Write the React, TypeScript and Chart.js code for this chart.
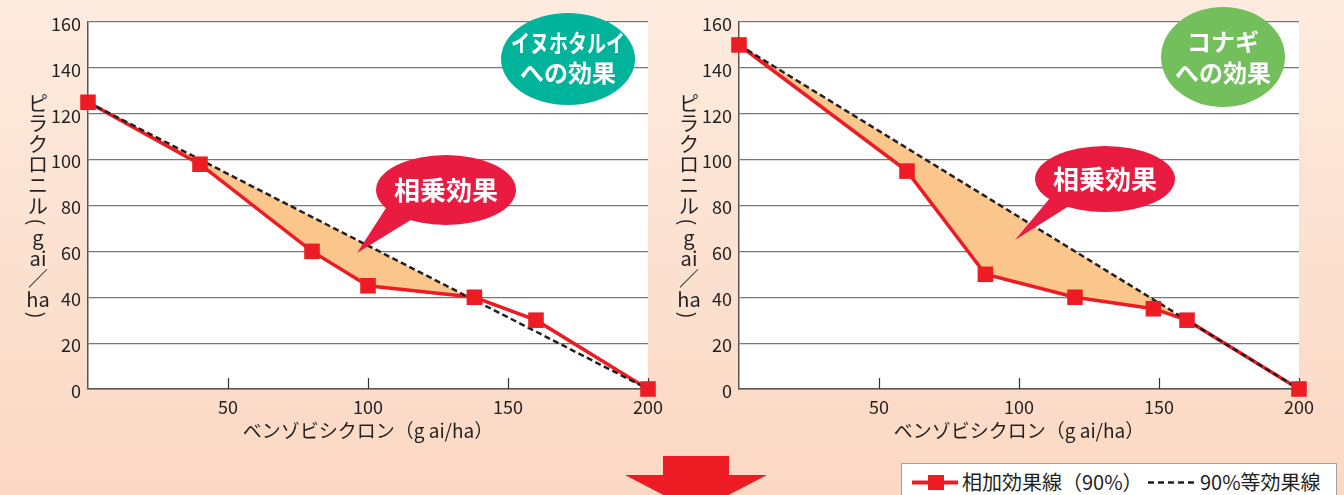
import React, { useEffect, useRef } from 'react';
import { Chart, registerables } from 'chart.js';

Chart.register(...registerables);

const FONT = '"Noto Sans CJK JP", "Noto Sans", sans-serif';
const TEXT = '#231f20';
const RED = '#ed1c24';
const ORANGE = '#fbc68b';
const CALLOUT = '#ea1b40';

// ---- data ----
const xTickValues = [0, 50, 100, 150, 200];
const yTickValues = [0, 20, 40, 60, 80, 100, 120, 140, 160];

// イヌホタルイ
const leftAdditiveX = [0, 40, 80, 100, 138, 160, 200];
const leftAdditiveY = [125, 98, 60, 45, 40, 30, 0];
const leftIsoboleX = [0, 200];
const leftIsoboleY = [125, 0];

// コナギ
const rightAdditiveX = [0, 60, 88, 120, 148, 160, 200];
const rightAdditiveY = [150, 95, 50, 40, 35, 30, 0];
const rightIsoboleX = [0, 200];
const rightIsoboleY = [150, 0];

const yTitleGlyphs = ['ピ', 'ラ', 'ク', 'ロ', 'ニ', 'ル', '(', 'g', 'ai', '／', 'ha', ')'];
const xTitle = 'ベンゾビシクロン（g ai/ha）';
const leftBadgeLines = ['イヌホタルイ', 'への効果'];
const rightBadgeLines = ['コナギ', 'への効果'];
const calloutText = '相乗効果';
const legendLabels = ['相加効果線（90%）', '90%等効果線'];

type Decor = {
  yTitleX: number;
  yTitleTop: number;
  badge: { cx: number; cy: number; rx: number; ry: number; color: string; lineY: number[]; maxW: number[] };
  badgeLines: string[];
  callout: { cx: number; cy: number; rx: number; ry: number; tail: number[][]; textY: number };
};

function makeDecor(d: Decor) {
  return {
    id: 'decor',
    beforeDraw(chart: any) {
      const { ctx, chartArea } = chart;
      ctx.save();
      ctx.fillStyle = '#ffffff';
      ctx.fillRect(chartArea.left, chartArea.top, chartArea.right - chartArea.left, chartArea.bottom - chartArea.top);
      ctx.restore();
    },
    beforeDatasetsDraw(chart: any) {
      const { ctx, chartArea } = chart;
      const xs = chart.scales.x;
      ctx.save();
      ctx.strokeStyle = '#333';
      ctx.lineWidth = 1.2;
      xTickValues.forEach((v) => {
        if (v === 0) return;
        const px = Math.round(xs.getPixelForValue(v)) + 0.5;
        ctx.beginPath();
        ctx.moveTo(px, chartArea.bottom);
        ctx.lineTo(px, chartArea.bottom - 11);
        ctx.stroke();
      });
      ctx.restore();
    },
    afterDraw(chart: any) {
      const { ctx } = chart;
      ctx.save();
      // vertical y title
      ctx.fillStyle = TEXT;
      ctx.font = `20px ${FONT}`;
      ctx.textAlign = 'center';
      ctx.textBaseline = 'middle';
      let y = d.yTitleTop;
      const full = 20.6;
      const half = 11;
      yTitleGlyphs.forEach((g, i) => {
        const isBracket = g === '(' || g === ')';
        const h = isBracket ? half : full;
        if (i > 0) {
          const prev = yTitleGlyphs[i - 1];
          const ph = prev === '(' || prev === ')' ? half : full;
          y += ph / 2 + h / 2;
        }
        if (isBracket) {
          ctx.save();
          ctx.translate(d.yTitleX, y);
          ctx.rotate(Math.PI / 2);
          ctx.fillText(g, 0, 1);
          ctx.restore();
        } else {
          ctx.fillText(g, d.yTitleX, y);
        }
      });

      // callout
      const c = d.callout;
      ctx.fillStyle = CALLOUT;
      ctx.beginPath();
      ctx.moveTo(c.tail[0][0], c.tail[0][1]);
      for (let i = 1; i < c.tail.length; i++) ctx.lineTo(c.tail[i][0], c.tail[i][1]);
      ctx.closePath();
      ctx.fill();
      ctx.beginPath();
      ctx.ellipse(c.cx, c.cy, c.rx, c.ry, 0, 0, Math.PI * 2);
      ctx.fill();
      ctx.fillStyle = '#ffffff';
      ctx.font = `bold 26px ${FONT}`;
      ctx.fillText(calloutText, c.cx, c.textY);

      // badge
      const b = d.badge;
      ctx.fillStyle = b.color;
      ctx.beginPath();
      ctx.ellipse(b.cx, b.cy, b.rx, b.ry, 0, 0, Math.PI * 2);
      ctx.fill();
      ctx.fillStyle = '#ffffff';
      ctx.font = `bold 24px ${FONT}`;
      d.badgeLines.forEach((line, i) => {
        ctx.fillText(line, b.cx, b.lineY[i], b.maxW[i]);
      });
      ctx.restore();
    },
  };
}

function buildConfig(addX: number[], addY: number[], isoX: number[], isoY: number[], yWidth: number, padRight: number, decor: Decor) {
  const additive = addX.map((x, i) => ({ x, y: addY[i] }));
  const isobole = isoX.map((x, i) => ({ x, y: isoY[i] }));
  const tickFont = { family: FONT, size: 18 };
  return {
    type: 'line',
    data: {
      datasets: [
        {
          data: additive,
          borderColor: RED,
          borderWidth: 3.5,
          pointRadius: 0,
          tension: 0,
          fill: { target: 1, above: 'rgba(0,0,0,0)', below: ORANGE },
          order: 2,
        },
        {
          data: isobole,
          borderColor: TEXT,
          borderWidth: 2.5,
          borderDash: [6, 3.5],
          pointRadius: 0,
          fill: false,
          order: 1,
        },
        {
          data: additive,
          showLine: false,
          pointStyle: 'rect',
          pointRadius: 11,
          pointBackgroundColor: RED,
          pointBorderColor: RED,
          pointBorderWidth: 0,
          clip: false,
          fill: false,
          order: 0,
        },
      ],
    },
    options: {
      responsive: false,
      animation: false,
      events: [],
      layout: { padding: { left: 0, right: padRight, top: 22, bottom: 0 } },
      plugins: { legend: { display: false }, tooltip: { enabled: false } },
      scales: {
        x: {
          type: 'linear',
          min: 0,
          max: 200,
          afterBuildTicks: (s: any) => {
            s.ticks = xTickValues.map((v) => ({ value: v }));
          },
          afterFit: (s: any) => {
            s.height = 106;
          },
          grid: { display: false, drawTicks: false },
          border: { display: true, color: '#555', width: 1.5 },
          ticks: {
            padding: 7,
            font: tickFont,
            color: TEXT,
            maxRotation: 0,
            autoSkip: false,
            callback: (v: any) => (v === 0 ? '' : String(v)),
          },
          title: {
            display: true,
            text: xTitle,
            font: { family: FONT, size: 19 },
            color: TEXT,
            padding: { top: 0, bottom: 53 },
          },
        },
        y: {
          type: 'linear',
          min: 0,
          max: 160,
          afterBuildTicks: (s: any) => {
            s.ticks = yTickValues.map((v) => ({ value: v }));
          },
          afterFit: (s: any) => {
            s.width = yWidth;
          },
          grid: { color: '#777', lineWidth: 1.2, drawTicks: false },
          border: { display: true, color: '#555', width: 1.5 },
          ticks: { padding: 7, labelOffset: 2, font: tickFont, color: TEXT, autoSkip: false },
        },
      },
    },
    plugins: [makeDecor(decor)],
  };
}

function ChartCanvas({ config, left }: { config: () => any; left: number }) {
  const ref = useRef<HTMLCanvasElement | null>(null);
  useEffect(() => {
    if (!ref.current) return;
    const chart = new Chart(ref.current, config());
    return () => chart.destroy();
  }, []);
  return <canvas ref={ref} width={672} height={495} style={{ position: 'absolute', left, top: 0, width: 672, height: 495 }} />;
}

const leftDecor: Decor = {
  yTitleX: 38,
  yTitleTop: 103,
  badge: { cx: 568, cy: 59, rx: 67, ry: 46, color: '#00b39b', lineY: [43, 73], maxW: [114, 200] },
  badgeLines: leftBadgeLines,
  callout: { cx: 446, cy: 190, rx: 70, ry: 35, tail: [[386, 208], [357, 253], [414, 218]], textY: 190 },
};

const rightDecor: Decor = {
  yTitleX: 689 - 672,
  yTitleTop: 103,
  badge: { cx: 1223 - 672, cy: 57, rx: 62, ry: 50, color: '#72bf5b', lineY: [42, 73], maxW: [200, 200] },
  badgeLines: rightBadgeLines,
  callout: {
    cx: 1105 - 672,
    cy: 179,
    rx: 70,
    ry: 33,
    tail: [[1050 - 672, 198], [1015 - 672, 240], [1069 - 672, 206]],
    textY: 179,
  },
};

export default function App() {
  return (
    <div
      style={{
        position: 'fixed',
        left: 0,
        top: 0,
        width: 1344,
        height: 495,
        overflow: 'hidden',
        background: 'linear-gradient(to bottom, #fdebdf 0%, #fbd8c3 100%)',
        fontFamily: FONT,
      }}
    >
      <ChartCanvas left={0} config={() => buildConfig(leftAdditiveX, leftAdditiveY, leftIsoboleX, leftIsoboleY, 88, 24, leftDecor)} />
      <ChartCanvas left={672} config={() => buildConfig(rightAdditiveX, rightAdditiveY, rightIsoboleX, rightIsoboleY, 67, 45, rightDecor)} />
      <svg style={{ position: 'absolute', left: 0, top: 0 }} width={1344} height={495}>
        <polygon points="663,456 729,456 729,475 767,475 696,512 625,475 663,475" fill={RED} />
      </svg>
      <div
        style={{
          position: 'absolute',
          left: 901,
          top: 463,
          width: 436,
          height: 40,
          background: '#ffffff',
          border: '1px solid #a0a0a0',
          boxSizing: 'border-box',
          color: TEXT,
          fontSize: 20,
        }}
      >
        <svg style={{ position: 'absolute', left: 0, top: 0 }} width={436} height={40}>
          <line x1={10} y1={18.5} x2={56} y2={18.5} stroke={RED} strokeWidth={4} />
          <rect x={26} y={11} width={16} height={15} fill={RED} />
          <line x1={246} y1={18.5} x2={293} y2={18.5} stroke={TEXT} strokeWidth={2.5} strokeDasharray="6 4" />
        </svg>
        <span style={{ position: 'absolute', left: 60, top: 4, lineHeight: '28px', whiteSpace: 'nowrap' }}>{legendLabels[0]}</span>
        <span style={{ position: 'absolute', left: 298, top: 4, lineHeight: '28px', whiteSpace: 'nowrap' }}>{legendLabels[1]}</span>
      </div>
    </div>
  );
}
